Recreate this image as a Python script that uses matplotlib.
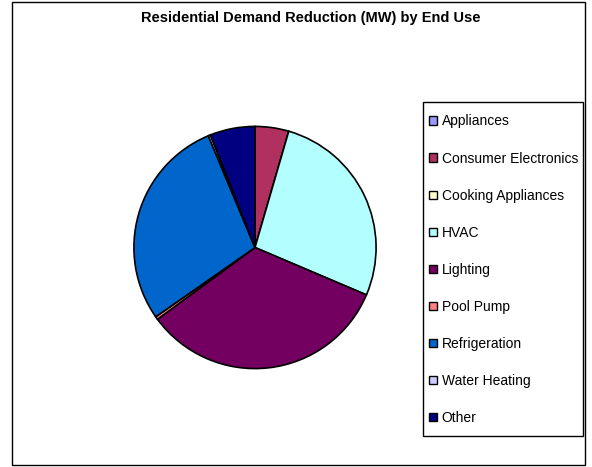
import matplotlib
matplotlib.use("Agg")
import matplotlib.pyplot as plt
from matplotlib.patches import Rectangle

plt.rcParams['font.family'] = ['Liberation Sans', 'DejaVu Sans']

# demand reduction by end use (MW)
end_uses = ["Appliances", "Consumer Electronics", "Cooking Appliances", "HVAC",
            "Lighting", "Pool Pump", "Refrigeration", "Water Heating", "Other"]
demand_mw = [0.0, 4.5, 0.0, 26.9, 33.5, 0.4, 28.4, 0.3, 6.0]
colors = ["#9999FF", "#B03060", "#FFFFCC", "#B3FFFF", "#730060",
          "#FF8080", "#0066CC", "#CCCCFF", "#000080"]

W, H = 592, 467
fig = plt.figure(figsize=(W / 100, H / 100), dpi=100)

# outer chart frame
fig.patches.append(Rectangle((12 / W, 2 / H), 573 / W, 463 / H, transform=fig.transFigure,
                             fill=False, edgecolor="black", linewidth=1.0))

fig.text(311 / W, 1 - 18 / H, "Residential Demand Reduction (MW) by End Use",
         ha="center", va="center", fontsize=10.5, fontweight="bold")

cx, cy, r = 255, 247.5, 123.5
ax = fig.add_axes([(cx - r) / W, (H - cy - r) / H, 2 * r / W, 2 * r / H])
wedges, _ = ax.pie(demand_mw, colors=colors, startangle=90, counterclock=False, radius=1,
                   wedgeprops=dict(edgecolor="black", linewidth=1.2))
ax.set_xlim(-1.02, 1.02)
ax.set_ylim(-1.02, 1.02)
ax.set_aspect("equal")
ax.axis("off")

# legend box drawn separately so its padding can be set freely
fig.patches.append(Rectangle((423 / W, 1 - 436 / H), 160 / W, 334 / H, transform=fig.transFigure,
                             fill=False, edgecolor="black", linewidth=1.0))
leg = fig.legend(wedges, end_uses, loc="upper left",
                 bbox_to_anchor=(429 / W, 1 - 114.5 / H), bbox_transform=fig.transFigure,
                 fontsize=10, frameon=False, borderaxespad=0, borderpad=0,
                 handlelength=0.55, handleheight=0.55, handletextpad=0.35,
                 labelspacing=1.66)
for h in leg.legend_handles:
    h.set_linewidth(1.0)

fig.savefig("out.png", dpi=100)
